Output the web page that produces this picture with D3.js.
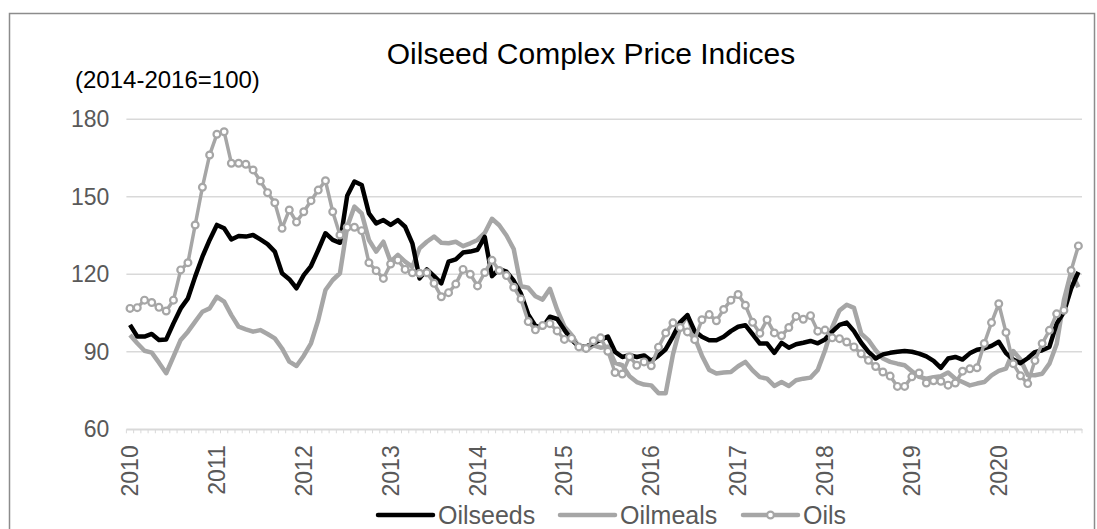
<!DOCTYPE html>
<html>
<head>
<meta charset="utf-8">
<script src="https://cdn.jsdelivr.net/npm/d3@7"></script>
<style>
  body { margin: 0; background: #fff; }
  text { font-family: "Liberation Sans", Arial, sans-serif; }
</style>
</head>
<body>
<svg id="chart"></svg>
<script>
// monthly data, Jan 2010 - Dec 2020
var years = [2010, 2011, 2012, 2013, 2014, 2015, 2016, 2017, 2018, 2019, 2020];
var months = [];
years.forEach(function(y) {
    for (var m = 1; m <= 12; m++) months.push(y + "-" + (m < 10 ? "0" : "") + m);
});

var oilseeds = [
    100.4, 95.9, 95.9, 96.9, 94.6, 94.8, 101, 106.8, 110.7, 119.1, 126.8, 133.3,
    139.1, 137.8, 133.5, 134.8, 134.6, 135.2, 133.5, 131.7, 128.8, 120.4, 118.1, 114.6,
    119.7, 123.2, 129.4, 135.9, 133.3, 132.2, 150.4, 155.9, 154.6, 143.6, 139.7, 141.0,
    139.1, 141.0, 138.4, 132.0, 118.4, 121.9, 119.3, 116.5, 124.9, 125.8, 128.4, 128.8,
    129.5, 134.5, 119.3, 122.0, 121.0, 117.5, 112.5, 104.5, 100.0, 99.5, 103.6, 102.7,
    98.5, 94.6, 92.0, 92.0, 93.3, 94.6, 95.9, 90.0, 88.0, 88.7, 88.0, 88.6,
    86.5, 88.5, 91.0, 96.0, 101.5, 104.2, 98.0, 95.8, 94.5, 94.5, 95.8, 98.0,
    99.7, 100.3, 96.8, 93.2, 93.2, 89.6, 93.5, 91.6, 92.9, 93.5, 94.2, 93.3,
    94.8, 97.8, 100.4, 101.3, 98.0, 93.5, 90.0, 87.4, 89.0, 89.6, 90.0, 90.3,
    90.0, 89.3, 88.2, 86.5, 83.8, 87.4, 88.0, 87.0, 89.4, 90.8, 91.3, 92.3,
    93.9, 89.5, 87.0, 85.6, 87.5, 89.9, 90.6, 91.9, 100.9, 105.4, 114.5, 120.9
];
var oilmeals = [
    96.5, 93.3, 90.4, 89.7, 85.8, 81.7, 88.1, 94.6, 97.8, 101.7, 105.5, 106.8,
    111.3, 109.4, 104.2, 99.7, 98.7, 97.8, 98.4, 96.9, 95.2, 91.3, 86.2, 84.5,
    88.5, 93.3, 102.3, 113.9, 117.8, 120.4, 138.4, 146.2, 143.6, 133.3, 128.8, 132.6,
    124.9, 127.5, 124.9, 122.9, 130.1, 132.6, 134.6, 132.2, 132.0, 132.6, 130.9, 132.0,
    133.3, 136.0, 141.5, 139.0, 135.0, 129.8, 115.4, 114.8, 111.5, 110.2, 114.4, 106.3,
    99.8, 96.5, 92.0, 90.5, 92.5, 91.6, 92.0, 85.7, 84.8, 80.5, 78.3, 77.3,
    77.0, 74.0, 74.0, 89.0, 99.6, 104.2, 95.5, 88.5, 83.0, 81.6, 82.0, 82.2,
    84.4, 86.1, 82.8, 80.2, 79.6, 76.8, 78.3, 76.8, 79.0, 79.6, 80.0, 83.0,
    90.5, 99.5, 106.0, 108.2, 107.0, 97.0, 94.5, 90.6, 87.4, 86.1, 85.4, 84.8,
    82.5, 80.3, 79.6, 80.2, 80.5, 82.0, 79.6, 78.3, 77.0, 77.7, 78.3, 80.9,
    82.6, 83.5, 90.3, 87.0, 81.0, 80.9, 81.5, 85.4, 93.0, 110.0, 121.0, 115.0
];
var oils = [
    106.8, 107.1, 110.0, 109.1, 107.2, 105.8, 110.0, 121.7, 124.5, 139.1, 153.7, 166.2,
    174.2, 175.2, 163.0, 163.0, 162.6, 160.4, 156.1, 151.6, 147.7, 137.8, 144.9, 140.2,
    144.2, 148.5, 152.6, 156.2, 144.2, 135.2, 138.2, 138.2, 136.9, 124.5, 121.4, 118.4,
    124.0, 125.5, 121.9, 120.6, 120.4, 120.6, 116.5, 111.3, 112.9, 116.2, 121.9, 120.0,
    115.5, 120.7, 125.4, 121.5, 119.5, 115.0, 110.4, 101.7, 98.5, 100.2, 100.9, 98.1,
    94.8, 95.2, 91.9, 91.3, 94.3, 95.4, 90.2, 82.0, 81.4, 88.1, 84.8, 86.1,
    84.6, 91.8, 97.3, 101.2, 99.4, 97.7, 94.7, 102.4, 104.4, 102.0, 106.4, 110.0,
    112.2, 108.0, 101.4, 97.2, 102.4, 97.3, 96.2, 99.4, 103.7, 102.6, 104.0, 98.0,
    98.4, 95.4, 95.1, 93.8, 91.9, 89.2, 86.7, 84.3, 82.2, 80.6, 76.6, 76.6,
    80.3, 81.8, 77.9, 78.8, 78.6, 77.1, 77.9, 82.5, 83.4, 83.8, 93.2, 101.3,
    108.6, 97.5, 85.4, 80.7, 77.7, 86.6, 93.2, 98.3, 104.7, 106.1, 121.5, 131.0
];
var yTicks = [60, 90, 120, 150, 180];
var seriesNames = ["Oilseeds", "Oilmeals", "Oils"];

var width = 1097;
var height = 529;
var gray = "#a6a6a6";
var textGray = "#595959";

var svg = d3.select("#chart").attr("width", width).attr("height", height);

// outer frame
svg.append("rect")
    .attr("x", 9.5).attr("y", 13.5)
    .attr("width", 1085).attr("height", 525)
    .attr("fill", "#fff")
    .attr("stroke", "#8c8c8c")
    .attr("stroke-width", 1.5);

var x = d3.scaleBand().domain(months).range([126.4, 1082]);
var y = d3.scaleLinear().domain([60, 180]).range([429.3, 119.3]);

function cx(d, i) { return x(months[i]) + x.bandwidth() / 2; }

// gridlines
svg.append("g")
    .selectAll("line")
    .data(yTicks)
    .enter().append("line")
    .attr("x1", 126.4).attr("x2", 1082)
    .attr("y1", function(d) { return y(d); })
    .attr("y2", function(d) { return y(d); })
    .attr("stroke", "#d9d9d9")
    .attr("stroke-width", 1.5);

// y axis labels
var yAxis = svg.append("g")
    .attr("transform", "translate(126.4,0)")
    .call(d3.axisLeft(y).tickValues(yTicks).tickSize(0).tickPadding(17));
yAxis.select(".domain").remove();
yAxis.selectAll("text")
    .attr("fill", textGray)
    .style("font-size", "23px")
    .style("font-family", "'Liberation Sans', Arial, sans-serif");

// x axis: ticks at every month boundary, labels on january
var xAxis = svg.append("g")
    .attr("transform", "translate(0," + y(60) + ")")
    .call(d3.axisBottom(x)
        .tickSize(0)
        .tickFormat(function(d) { return d.slice(5) == "01" ? d.slice(0, 4) : ""; }));
xAxis.select(".domain").attr("stroke", "#d9d9d9").attr("stroke-width", 1.5);
xAxis.selectAll("text")
    .attr("fill", textGray)
    .style("font-size", "23px")
    .style("font-family", "'Liberation Sans', Arial, sans-serif")
    .attr("text-anchor", "end")
    .attr("dy", "0.35em")
    .attr("transform", "translate(0,16) rotate(-90)")
    .attr("x", 0).attr("y", 0);

var boundaries = months.map(function(m) { return x(m); }).concat([1082]);
svg.append("g").selectAll("line")
    .data(boundaries)
    .enter().append("line")
    .attr("x1", function(d) { return d; }).attr("x2", function(d) { return d; })
    .attr("y1", y(60)).attr("y2", y(60) + 4)
    .attr("stroke", "#d9d9d9")
    .attr("stroke-width", 1);

var line = d3.line()
    .x(cx)
    .y(function(d) { return y(d); });

svg.append("path")
    .datum(oilmeals)
    .attr("d", line)
    .attr("fill", "none")
    .attr("stroke", gray)
    .attr("stroke-width", 4.5)
    .attr("stroke-linejoin", "round");

svg.append("path")
    .datum(oilseeds)
    .attr("d", line)
    .attr("fill", "none")
    .attr("stroke", "#000")
    .attr("stroke-width", 4.5)
    .attr("stroke-linejoin", "round");

svg.append("path")
    .datum(oils)
    .attr("d", line)
    .attr("fill", "none")
    .attr("stroke", gray)
    .attr("stroke-width", 3.5)
    .attr("stroke-linejoin", "round");

svg.append("g").selectAll("circle")
    .data(oils)
    .enter().append("circle")
    .attr("cx", cx)
    .attr("cy", function(d) { return y(d); })
    .attr("r", 3.4)
    .attr("fill", "#fff")
    .attr("stroke", gray)
    .attr("stroke-width", 2.2);

// title
svg.append("text")
    .attr("x", 591).attr("y", 64)
    .attr("text-anchor", "middle")
    .attr("fill", "#000")
    .style("font-size", "30px")
    .text("Oilseed Complex Price Indices");

svg.append("text")
    .attr("x", 75).attr("y", 88)
    .attr("fill", "#000")
    .style("font-size", "24px")
    .text("(2014-2016=100)");

// legend
var legendItems = [
    { name: seriesNames[0], color: "#000", x: 378, marker: false },
    { name: seriesNames[1], color: gray, x: 560, marker: false },
    { name: seriesNames[2], color: gray, x: 743, marker: true }
];
var legend = svg.append("g").selectAll("g")
    .data(legendItems)
    .enter().append("g")
    .attr("transform", function(d) { return "translate(" + d.x + ",515)"; });
legend.append("line")
    .attr("x1", 0).attr("x2", 55)
    .attr("stroke", function(d) { return d.color; })
    .attr("stroke-width", 4.5)
    .attr("stroke-linecap", "round");
legend.filter(function(d) { return d.marker; })
    .append("circle")
    .attr("cx", 27.5).attr("r", 3.4)
    .attr("fill", "#fff")
    .attr("stroke", gray)
    .attr("stroke-width", 2.2);
legend.append("text")
    .attr("x", 60).attr("dy", "0.35em")
    .attr("fill", textGray)
    .style("font-size", "25px")
    .text(function(d) { return d.name; });
</script>
</body>
</html>
